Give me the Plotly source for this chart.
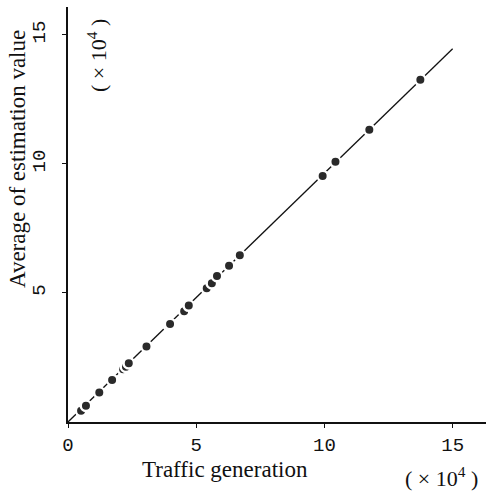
import plotly.graph_objects as go

traffic = [0.51, 0.70, 1.22, 1.72, 2.15, 2.26, 2.37, 3.06, 3.93, 3.98, 4.53, 4.71,
           5.41, 5.61, 5.81, 6.28, 6.70, 9.93, 10.43, 11.75, 13.74]
estimate = [0.44, 0.63, 1.14, 1.63, 2.04, 2.14, 2.28, 2.93, 3.75, 3.80, 4.29, 4.51,
            5.18, 5.38, 5.66, 6.05, 6.46, 9.53, 10.08, 11.32, 13.26]
fit_x = [0, 15.0]
fit_y = [0, 14.46]
tick_vals = [0, 5, 10, 15]
tick_text = ["0", "5", "10", "15"]

mono = "Liberation Mono"
serif = "Liberation Serif"

fig = go.Figure()
fig.add_trace(go.Scatter(x=fit_x, y=fit_y, mode="lines",
                         line=dict(color="#111", width=1.3), showlegend=False))
fig.add_trace(go.Scatter(x=traffic, y=estimate, mode="markers",
                         marker=dict(size=10.5, color="#2a2a2a",
                                     line=dict(color="white", width=2.5)),
                         showlegend=False))

fig.update_layout(
    width=486, height=495,
    margin=dict(l=68, r=0, t=7, b=73),
    paper_bgcolor="white", plot_bgcolor="white",
    xaxis=dict(range=[0, 16.3], tickvals=tick_vals, ticktext=tick_text,
               showgrid=False, zeroline=False, showline=True,
               linecolor="#111", linewidth=2, ticks="outside", ticklen=4,
               tickcolor="#111",
               tickfont=dict(family=mono, size=19, color="#111")),
    yaxis=dict(range=[0, 16.08], tickvals=tick_vals[1:], ticktext=tick_text[1:],
               showgrid=False, zeroline=False, showline=True,
               linecolor="#111", linewidth=2, ticks="outside", ticklen=4,
               tickcolor="#111", tickangle=-90, ticklabelstandoff=9,
               tickfont=dict(family=mono, size=19, color="#111")),
    annotations=[
        dict(text="Traffic generation", x=225, y=469, showarrow=False,
             font=dict(family=serif, size=23, color="#111")),
        dict(text="( × 10<sup>4</sup> )", x=441, y=477, showarrow=False,
             font=dict(family=serif, size=22, color="#111")),
        dict(text="Average of estimation value", x=17, y=159, showarrow=False,
             textangle=-90, font=dict(family=serif, size=23, color="#111")),
        dict(text="( × 10<sup>4</sup> )", x=97, y=56, showarrow=False,
             textangle=-90, font=dict(family=serif, size=22, color="#111")),
    ],
)
# convert pixel positions of annotations to paper coordinates
L, T, B, W, H = 68, 7, 73, 486, 495
pw, ph = W - L, H - T - B
for a in fig.layout.annotations:
    px, py = a.x, a.y
    a.xref = "paper"; a.yref = "paper"
    a.x = (px - L) / pw
    a.y = (H - B - py) / ph
    a.xanchor = "center"; a.yanchor = "middle"

fig.write_html("out.html")
